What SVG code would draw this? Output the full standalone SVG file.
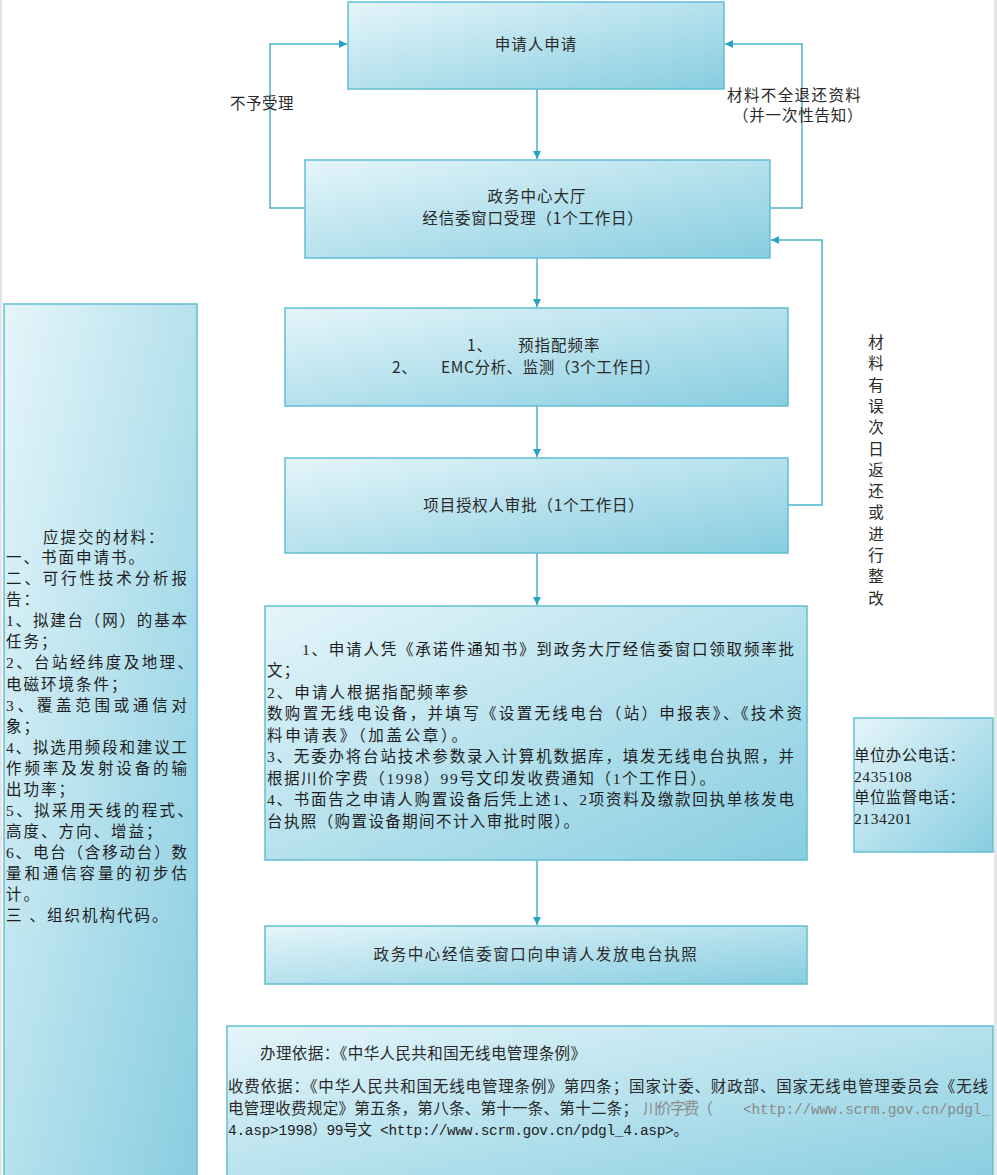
<svg xmlns="http://www.w3.org/2000/svg" width="997" height="1175" viewBox="0 0 997 1175">
<defs>
<linearGradient id="g" x1="0" y1="0" x2="1" y2="1">
<stop offset="0" stop-color="#e5f5fa"/>
<stop offset="1" stop-color="#87cde0"/>
</linearGradient>
<marker id="ah" markerUnits="userSpaceOnUse" markerWidth="9" markerHeight="9" refX="8" refY="4" orient="auto">
<path d="M0,0 L8,4 L0,8 z" fill="#2aa3c2"/>
</marker>
<style>
.box{fill:url(#g);stroke:#62bfd3;stroke-width:1.5}
.c{fill:none;stroke:#4bb3cb;stroke-width:1.5;marker-end:url(#ah)}
.t{font-family:"Noto Sans CJK SC","Noto Sans",sans-serif;font-size:15.5px;fill:#2a2a2a}
.m{text-anchor:middle}
.s{font-family:"Liberation Serif","Noto Sans CJK SC",serif;font-size:15.5px;fill:#1e1e1e}
.u{font-family:"Liberation Mono","Noto Sans CJK SC",monospace;font-size:14.5px;fill:#1e1e1e}
.gr{fill:#8a8a8a}
.lbl{font-family:"Noto Sans CJK SC","Noto Sans",sans-serif;font-size:15.5px;fill:#2a2a2a}
</style>
</defs>
<rect x="0" y="0" width="997" height="1175" fill="#ffffff"/>
<rect x="0" y="0" width="2" height="1175" fill="#e6e6e6"/>
<rect x="994" y="0" width="3" height="1175" fill="#e6e6e6"/>

<g id="connectors">
<path class="c" d="M537,89 V159"/>
<path class="c" d="M537,258 V307"/>
<path class="c" d="M537,406 V457"/>
<path class="c" d="M537,553 V605"/>
<path class="c" d="M537,860 V925"/>
<path class="c" d="M305,208 H270 V44 H347"/>
<path class="c" d="M770,208 H802 V44 H725"/>
<path class="c" d="M788,505 H822 V240 H771"/>
<text class="lbl" x="230" y="109" letter-spacing="0.5">不予受理</text>
<text class="lbl" x="727" y="101" letter-spacing="1.4">材料不全退还资料</text>
<text class="lbl" x="733" y="121" letter-spacing="0.8">（并一次性告知）</text>
<text class="lbl m" x="876" y="348">材<tspan x="876" dy="21.3">料</tspan><tspan x="876" dy="21.3">有</tspan><tspan x="876" dy="21.3">误</tspan><tspan x="876" dy="21.3">次</tspan><tspan x="876" dy="21.3">日</tspan><tspan x="876" dy="21.3">返</tspan><tspan x="876" dy="21.3">还</tspan><tspan x="876" dy="21.3">或</tspan><tspan x="876" dy="21.3">进</tspan><tspan x="876" dy="21.3">行</tspan><tspan x="876" dy="21.3">整</tspan><tspan x="876" dy="21.3">改</tspan></text>
</g>

<g id="n1">
<rect class="box" x="348" y="2" width="376" height="87"/>
<text class="t m" x="536" y="50" letter-spacing="1">申请人申请</text>
</g>

<g id="n2">
<rect class="box" x="305" y="160" width="465" height="98"/>
<text class="t m" x="537" y="202" letter-spacing="1">政务中心大厅</text>
<text class="t m" x="533" y="224" letter-spacing="0.8">经信委窗口受理（1个工作日）</text>
</g>

<g id="n3">
<rect class="box" x="285" y="308" width="503" height="98"/>
<text class="t" y="351" letter-spacing="1"><tspan x="467">1、</tspan><tspan x="518">预指配频率</tspan></text>
<text class="t" y="373" letter-spacing="0.6"><tspan x="392">2、</tspan><tspan x="441">EMC分析、监测（3个工作日）</tspan></text>
</g>

<g id="n4">
<rect class="box" x="285" y="458" width="503" height="95"/>
<text class="t m" x="534" y="511" letter-spacing="0.8">项目授权人审批（1个工作日）</text>
</g>

<g id="n5">
<rect class="box" x="265" y="606" width="542" height="254"/>
<text class="s" x="302" y="655" textLength="492" lengthAdjust="spacing">1、申请人凭《承诺件通知书》到政务大厅经信委窗口领取频率批</text>
<text class="s" x="267" y="676" letter-spacing="1.2">文；</text>
<text class="s" x="267" y="698" textLength="201" lengthAdjust="spacing">2、申请人根据指配频率参</text>
<text class="s" x="267" y="719" textLength="535" lengthAdjust="spacing">数购置无线电设备，并填写《设置无线电台（站）申报表》、《技术资</text>
<text class="s" x="267" y="741" textLength="200" lengthAdjust="spacing">料申请表》（加盖公章）。</text>
<text class="s" x="267" y="762" textLength="527" lengthAdjust="spacing">3、无委办将台站技术参数录入计算机数据库，填发无线电台执照，并</text>
<text class="s" x="267" y="784" textLength="448" lengthAdjust="spacing">根据川价字费（1998）99号文印发收费通知（1个工作日）。</text>
<text class="s" x="267" y="805" textLength="527" lengthAdjust="spacing">4、书面告之申请人购置设备后凭上述1、2项资料及缴款回执单核发电</text>
<text class="s" x="267" y="827" textLength="312" lengthAdjust="spacing">台执照（购置设备期间不计入审批时限）。</text>
</g>

<g id="n6">
<rect class="box" x="265" y="926" width="542" height="58"/>
<text class="t m" x="536" y="960" letter-spacing="1.6">政务中心经信委窗口向申请人发放电台执照</text>
</g>

<g id="n7">
<rect class="box" x="4" y="304" width="193" height="880"/>
<text class="s" x="43" y="543" letter-spacing="2">应提交的材料：</text>
<text class="s" x="6" y="563" letter-spacing="2">一、书面申请书。</text>
<text class="s" x="6" y="584" textLength="181" lengthAdjust="spacing">二、可行性技术分析报</text>
<text class="s" x="6" y="605" letter-spacing="2">告：</text>
<text class="s" x="6" y="626" textLength="181" lengthAdjust="spacing">1、拟建台（网）的基本</text>
<text class="s" x="6" y="647" letter-spacing="2">任务；</text>
<text class="s" x="6" y="668" textLength="187" lengthAdjust="spacing">2、台站经纬度及地理、</text>
<text class="s" x="6" y="690" letter-spacing="2">电磁环境条件；</text>
<text class="s" x="6" y="711" textLength="181" lengthAdjust="spacing">3、覆盖范围或通信对</text>
<text class="s" x="6" y="732" letter-spacing="2">象；</text>
<text class="s" x="6" y="753" textLength="181" lengthAdjust="spacing">4、拟选用频段和建议工</text>
<text class="s" x="6" y="774" textLength="181" lengthAdjust="spacing">作频率及发射设备的输</text>
<text class="s" x="6" y="795" letter-spacing="2">出功率；</text>
<text class="s" x="6" y="816" textLength="187" lengthAdjust="spacing">5、拟采用天线的程式、</text>
<text class="s" x="6" y="837" letter-spacing="2">高度、方向、增益；</text>
<text class="s" x="6" y="858" textLength="181" lengthAdjust="spacing">6、电台（含移动台）数</text>
<text class="s" x="6" y="879" textLength="181" lengthAdjust="spacing">量和通信容量的初步估</text>
<text class="s" x="6" y="900" letter-spacing="2">计。</text>
<text class="s" x="6" y="921" letter-spacing="2">三 、组织机构代码。</text>
</g>

<g id="n8">
<rect class="box" x="854" y="718" width="139" height="134"/>
<text class="s" x="854" y="761" letter-spacing="0.4">单位办公电话：</text>
<text class="s" x="854" y="782" letter-spacing="0.6">2435108</text>
<text class="s" x="854" y="803" letter-spacing="0.4">单位监督电话：</text>
<text class="s" x="854" y="824" letter-spacing="0.6">2134201</text>
</g>

<g id="n9">
<rect class="box" x="227" y="1026" width="766" height="160"/>
<text class="t" x="260" y="1059" textLength="326" lengthAdjust="spacing">办理依据：《中华人民共和国无线电管理条例》</text>
<text class="t" x="228" y="1092" textLength="760" lengthAdjust="spacing">收费依据：《中华人民共和国无线电管理条例》第四条；国家计委、财政部、国家无线电管理委员会《无线</text>
<text class="t" x="228" y="1114" textLength="410" lengthAdjust="spacing">电管理收费规定》第五条，第八条、第十一条、第十二条；</text>
<text class="t gr" x="643" y="1114" textLength="70" lengthAdjust="spacing">川价字费（</text>
<text class="u gr" x="743" y="1114" textLength="247" lengthAdjust="spacing">&lt;http://www.scrm.gov.cn/pdgl_</text>
<text class="u" x="228" y="1135" textLength="144" lengthAdjust="spacing">4.asp&gt;1998）99号文</text>
<text class="u" x="380" y="1135" textLength="308" lengthAdjust="spacing">&lt;http://www.scrm.gov.cn/pdgl_4.asp&gt;。</text>
</g>
</svg>
